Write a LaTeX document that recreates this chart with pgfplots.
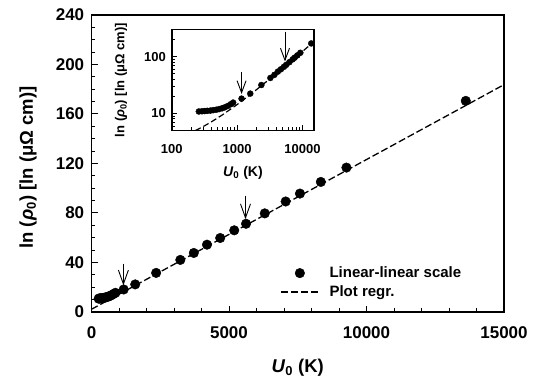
\documentclass[border=0pt]{standalone}
\usepackage{fontspec}
\setmainfont{Liberation Sans}
\usepackage{pgfplots}
\usepackage{pgfplotstable}
\pgfplotsset{compat=1.18}
\usetikzlibrary{arrows.meta}

\pgfplotsset{
  mymarklegend/.style={legend image code/.code={\path[draw=none,fill=none] (0pt,0pt) -- (38pt,0pt); \path[##1, draw=none] plot coordinates {(19pt,0pt)};}},
  mylinelegend/.style={legend image code/.code={\draw[##1] (0pt,0pt) -- (38pt,0pt);}},
}

\pgfplotstableread{
U rho
260 10.8
290 10.9
320 11.0
350 11.1
390 11.2
430 11.4
480 11.6
530 11.9
590 12.3
650 12.8
720 13.5
800 14.5
870 15.5
1170 18.2
1590 22.3
2350 31.6
3230 42.1
3720 47.7
4200 54.4
4680 59.8
5190 66.0
5620 71.3
6300 79.7
7060 89.3
7580 95.7
8340 105.1
9270 116.7
13610 170.6
}\datatable

\begin{document}
\begin{tikzpicture}
\useasboundingbox (-91.5pt,-67pt) rectangle (453.5pt,312pt);
\begin{axis}[
  name=main, at={(0,0)}, anchor=south west,
  scale only axis, width=412.5pt, height=297pt,
  xmin=0, xmax=15000, ymin=0, ymax=240,
  xtick={0,5000,10000,15000}, minor x tick num=4,
  ytick={0,40,...,240}, minor y tick num=3,
  scaled ticks=false, tick pos=left, tick align=inside,
  major tick length=6pt, minor tick length=3.5pt,
  every tick/.style={black, line width=1pt},
  axis line style={line width=1.8pt},
  /pgf/number format/1000 sep={},
  /pgf/number format/assume math mode=true,
  ticklabel style={font=\bfseries\fontsize{17}{17}\selectfont},
  xticklabel style={yshift=-11.3pt},
  yticklabel style={xshift=-3.8pt},
  xlabel={\textit{U}\textsubscript{0} (K)},
  ylabel={ln (\textit{ρ}\textsubscript{0}) [ln (μΩ cm)]},
  label style={font=\bfseries\fontsize{18.5}{18.5}\selectfont},
  xlabel style={at={([yshift=-60.5pt]axis description cs:0.5,0)}, anchor=base},
  ylabel style={at={([xshift=-63.5pt,yshift=-4pt]axis description cs:0,0.5)}, anchor=center},
  legend cell align=left,
  legend style={draw=none, fill=none, at={(axis cs:6855,23.8)}, anchor=west,
    inner sep=0pt, row sep=2.5pt, column sep=8pt,
    font=\bfseries\fontsize{15}{15}\selectfont},
]
\addplot[only marks, mark=*, mark size=4.8pt, black, mymarklegend]
  table[x=U, y=rho] {\datatable};
\addlegendentry{Linear-linear scale}
\addplot[black, line width=1.3pt, dash pattern=on 7pt off 3pt, mylinelegend]
  coordinates {(0,2.2) (15000,183.7)};
\addlegendentry{Plot regr.}
\draw[line width=0.9pt, -{Straight Barb[length=14pt, width=10pt, line width=0.9pt]}]
  (axis cs:1160,39) -- (axis cs:1160,21.5);
\draw[line width=0.9pt, -{Straight Barb[length=14pt, width=10pt, line width=0.9pt]}]
  (axis cs:5600,94) -- (axis cs:5600,75);
\end{axis}
\begin{axis}[
  at={(80.2pt,181.5pt)}, anchor=south west,
  scale only axis, width=142.3pt, height=101pt,
  xmode=log, ymode=log,
  xmin=100, xmax=15000, ymin=5, ymax=300,
  xtick={100,1000,10000}, ytick={10,100},
  minor xtick={200,300,400,500,600,700,800,900,2000,3000,4000,5000,6000,7000,8000,9000},
  minor ytick={6,7,8,9,20,30,40,50,60,70,80,90,200,300},
  log ticks with fixed point,
  /pgf/number format/1000 sep={},
  /pgf/number format/assume math mode=true,
  tick pos=left, tick align=inside,
  major tick length=5pt, minor tick length=3pt,
  every tick/.style={black, line width=0.8pt},
  axis line style={line width=1.8pt},
  axis background/.style={fill=white},
  ticklabel style={font=\bfseries\fontsize{13}{13}\selectfont},
  xticklabel style={yshift=-10pt},
  yticklabel style={xshift=-2.4pt},
  xlabel={\textit{U}\textsubscript{0} (K)},
  ylabel={ln (\textit{ρ}\textsubscript{0}) [ln (μΩ cm)]},
  xlabel style={font=\bfseries\fontsize{14}{14}\selectfont, at={([yshift=-46pt]axis description cs:0.5,0)}, anchor=base},
  ylabel style={font=\bfseries\fontsize{13}{13}\selectfont, at={([xshift=-50.7pt]axis description cs:0,0.5)}, anchor=center},
  clip=true,
]
\addplot[only marks, mark=*, mark size=3pt, black] table[x=U, y=rho] {\datatable};
\addplot[black, line width=1.2pt, dash pattern=on 6pt off 3pt]
  coordinates {(230,4.98) (300,5.83) (400,7.04) (600,9.46) (1000,14.3) (1500,20.35) (2000,26.4) (3000,38.5) (5000,62.7) (8000,99) (12000,147.4) (15000,183.7)};
\draw[line width=0.9pt, -{Straight Barb[length=12pt, width=9pt, line width=0.9pt]}]
  (axis cs:1170,53) -- (axis cs:1170,22);
\draw[line width=0.9pt, -{Straight Barb[length=12pt, width=9pt, line width=0.9pt]}]
  (axis cs:5400,275) -- (axis cs:5400,82);
\end{axis}
\end{tikzpicture}
\end{document}
